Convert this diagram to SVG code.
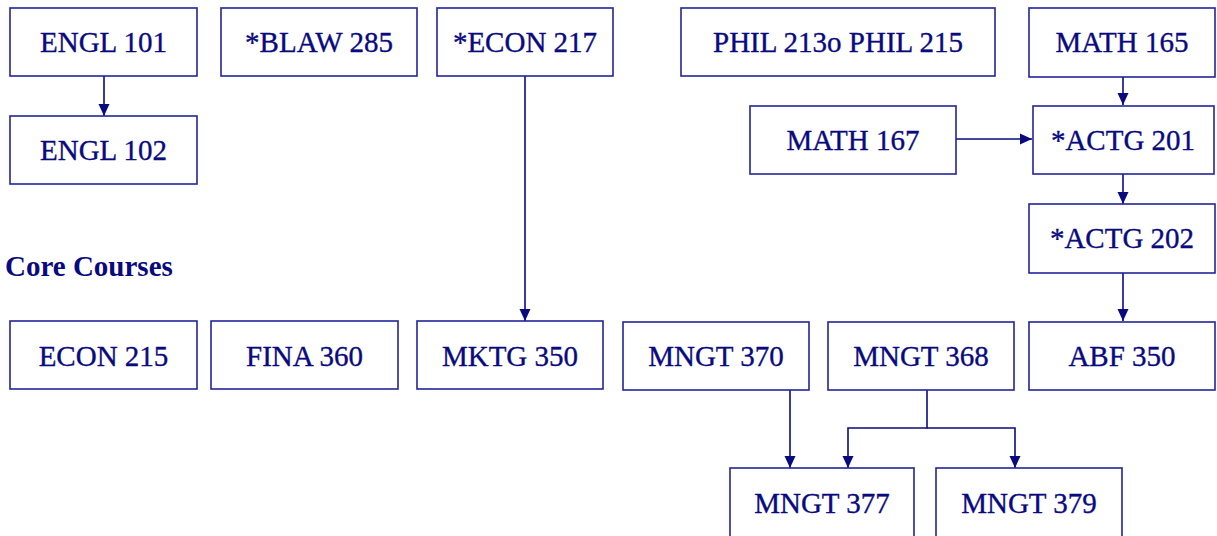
<svg xmlns="http://www.w3.org/2000/svg" width="1217" height="536" viewBox="0 0 1217 536">
<style>
.b{fill:#fff;stroke:#23239a;stroke-width:1.6}
.t{font-family:"Liberation Serif","Times New Roman",serif;font-size:29px;fill:#0a0a80;stroke:#0a0a80;stroke-width:0.35;text-anchor:middle}
.h{font-family:"Liberation Serif","Times New Roman",serif;font-size:29px;font-weight:bold;fill:#0a0a80}
.c{fill:none;stroke:#0a0a80;stroke-width:1.6}
</style>
<defs>
<marker id="a" viewBox="0 0 12 12" refX="12" refY="6" markerWidth="12" markerHeight="12" markerUnits="userSpaceOnUse" orient="auto">
<path d="M0,0.5L12,6L0,11.5z" fill="#0a0a80"/>
</marker>
</defs>
<rect width="1217" height="536" fill="#fff"/>
<g id="connectors">
<path class="c" d="M104,76V116" marker-end="url(#a)"/>
<path class="c" d="M525,76V321" marker-end="url(#a)"/>
<path class="c" d="M1123,77V105" marker-end="url(#a)"/>
<path class="c" d="M956,139H1032" marker-end="url(#a)"/>
<path class="c" d="M1123,174V204" marker-end="url(#a)"/>
<path class="c" d="M1123,273V321" marker-end="url(#a)"/>
<path class="c" d="M790,390V468" marker-end="url(#a)"/>
<path class="c" d="M927,390V428H848V468" marker-end="url(#a)"/>
<path class="c" d="M927,428H1015V468" marker-end="url(#a)"/>
</g>
<g id="engl101"><rect class="b" x="10" y="8" width="187" height="68"/><text class="t" x="103.5" y="52">ENGL 101</text></g>
<g id="blaw285"><rect class="b" x="221" y="8" width="196" height="68"/><text class="t" x="319" y="52">*BLAW 285</text></g>
<g id="econ217"><rect class="b" x="437" y="8" width="176" height="68"/><text class="t" x="525" y="52">*ECON 217</text></g>
<g id="phil"><rect class="b" x="681" y="8" width="314" height="68"/><text class="t" x="838" y="52">PHIL 213o PHIL 215</text></g>
<g id="math165"><rect class="b" x="1029" y="8" width="186" height="69"/><text class="t" x="1122" y="52">MATH 165</text></g>
<g id="engl102"><rect class="b" x="10" y="116" width="187" height="68"/><text class="t" x="103.5" y="160">ENGL 102</text></g>
<g id="math167"><rect class="b" x="750" y="106" width="206" height="68"/><text class="t" x="853" y="150">MATH 167</text></g>
<g id="actg201"><rect class="b" x="1033" y="106" width="181" height="68"/><text class="t" x="1123" y="150">*ACTG 201</text></g>
<g id="actg202"><rect class="b" x="1029" y="204" width="186" height="69"/><text class="t" x="1122" y="248">*ACTG 202</text></g>
<g id="core"><text class="h" x="5" y="276">Core Courses</text></g>
<g id="econ215"><rect class="b" x="10" y="321" width="187" height="68"/><text class="t" x="103.5" y="366">ECON 215</text></g>
<g id="fina360"><rect class="b" x="211" y="321" width="187" height="68"/><text class="t" x="304.5" y="366">FINA 360</text></g>
<g id="mktg350"><rect class="b" x="417" y="321" width="186" height="68"/><text class="t" x="510" y="366">MKTG 350</text></g>
<g id="mngt370"><rect class="b" x="623" y="322" width="186" height="68"/><text class="t" x="716" y="366">MNGT 370</text></g>
<g id="mngt368"><rect class="b" x="828" y="322" width="186" height="68"/><text class="t" x="921" y="366">MNGT 368</text></g>
<g id="abf350"><rect class="b" x="1029" y="322" width="186" height="68"/><text class="t" x="1122" y="366">ABF 350</text></g>
<g id="mngt377"><rect class="b" x="730" y="468" width="184" height="75"/><text class="t" x="822" y="513">MNGT 377</text></g>
<g id="mngt379"><rect class="b" x="936" y="468" width="186" height="75"/><text class="t" x="1029" y="513">MNGT 379</text></g>
</svg>
